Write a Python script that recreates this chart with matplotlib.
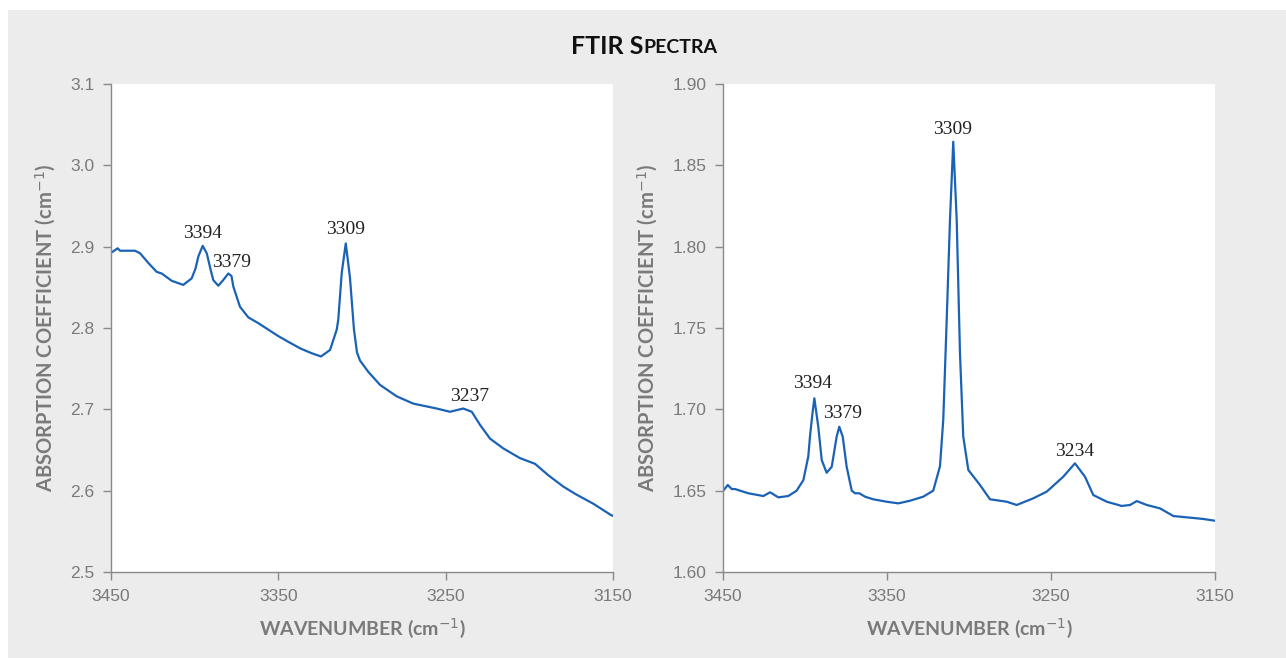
import numpy as np
import matplotlib
matplotlib.use("Agg")
import matplotlib.pyplot as plt
from matplotlib.patches import Rectangle

# Spectrum 1 (left panel)
wn_left = [3449.6, 3446.0, 3444.6, 3435.7, 3432.7, 3427.7, 3422.7, 3419.7,
           3413.7, 3406.8, 3401.8, 3399.5, 3397.8, 3395.2, 3392.8, 3390.5,
           3388.9, 3385.9, 3382.9, 3379.9, 3378.0, 3376.9, 3372.9, 3367.9,
           3362.0, 3356.0, 3350.0, 3344.0, 3337.0, 3330.1, 3324.5, 3319.1,
           3315.1, 3314.2, 3312.1, 3309.7, 3307.2, 3304.8, 3303.0, 3301.2,
           3296.2, 3289.2, 3279.3, 3269.3, 3255.4, 3247.4, 3239.5, 3234.4,
           3229.5, 3223.5, 3215.6, 3205.6, 3196.6, 3188.7, 3179.7, 3171.7,
           3161.8, 3151.2, 3150.0]
abs_left = [2.893, 2.898, 2.895, 2.895, 2.892, 2.880, 2.869, 2.867,
            2.858, 2.853, 2.861, 2.873, 2.888, 2.901, 2.892, 2.872,
            2.859, 2.852, 2.859, 2.867, 2.864, 2.851, 2.826, 2.813,
            2.806, 2.798, 2.790, 2.783, 2.775, 2.769, 2.765, 2.773,
            2.798, 2.810, 2.868, 2.904, 2.862, 2.798, 2.770, 2.760,
            2.746, 2.730, 2.716, 2.707, 2.701, 2.697, 2.701, 2.697,
            2.681, 2.664, 2.652, 2.640, 2.633, 2.619, 2.605, 2.595,
            2.584, 2.570, 2.569]

# Spectrum 2 (right panel)
wn_right = [3449.8, 3447.1, 3444.7, 3442.7, 3434.6, 3425.4, 3421.3, 3416.3,
            3410.2, 3405.1, 3401.0, 3398.0, 3396.9, 3395.5, 3394.3, 3391.9,
            3389.8, 3386.8, 3383.7, 3380.7, 3379.1, 3377.0, 3374.6, 3371.5,
            3369.5, 3366.9, 3363.4, 3358.4, 3350.2, 3343.1, 3336.0, 3327.9,
            3321.8, 3317.7, 3315.7, 3313.6, 3311.6, 3309.6, 3307.5, 3305.5,
            3303.5, 3300.4, 3293.3, 3287.2, 3277.0, 3270.9, 3260.8, 3252.6,
            3242.5, 3235.4, 3229.3, 3224.2, 3216.0, 3206.9, 3201.8, 3197.7,
            3191.6, 3183.5, 3175.4, 3165.2, 3157.1, 3150.0]
abs_right = [1.650, 1.6535, 1.651, 1.651, 1.6484, 1.6467, 1.649, 1.6459,
             1.6467, 1.650, 1.6565, 1.671, 1.684, 1.697, 1.7068, 1.6893,
             1.6688, 1.661, 1.6647, 1.6832, 1.6893, 1.6832, 1.6647, 1.650,
             1.6484, 1.6484, 1.6463, 1.6447, 1.6432, 1.6422, 1.6438, 1.6463,
             1.650, 1.665, 1.6934, 1.7549, 1.8164, 1.8645, 1.8164, 1.7344,
             1.6832, 1.6627, 1.6535, 1.6447, 1.6432, 1.6412, 1.6453, 1.6494,
             1.6586, 1.6668, 1.6586, 1.6473, 1.6432, 1.6406, 1.6412, 1.6436,
             1.6412, 1.6391, 1.6344, 1.6334, 1.6326, 1.6315]

# Peak labels: (text, x, y)
peaks_left = [("3394", 3395.0, 2.916), ("3379", 3377.7, 2.881),
              ("3309", 3309.6, 2.9205), ("3237", 3235.5, 2.7152)]
peaks_right = [("3394", 3395.1, 1.7156), ("3379", 3377.4, 1.6977),
               ("3309", 3309.8, 1.8723), ("3234", 3235.4, 1.6738)]

line_color = "#1a62b6"
grey = "#7a7a7a"

fig = plt.figure(figsize=(12.86, 6.58), dpi=100)
fig.patch.set_facecolor("white")
fig.patches.append(Rectangle((8 / 1286, 0), 1, 648 / 658, transform=fig.transFigure,
                             facecolor="#ececec", edgecolor="none", zorder=-10))

ax1 = fig.add_axes([111 / 1286, 86 / 658, 502 / 1286, 488 / 658])
ax2 = fig.add_axes([723 / 1286, 86 / 658, 492 / 1286, 488 / 658])

panels = [
    (ax1, wn_left, abs_left, peaks_left, (2.5, 3.1), np.arange(2.5, 3.11, 0.1), "{x:.1f}"),
    (ax2, wn_right, abs_right, peaks_right, (1.60, 1.90), np.arange(1.60, 1.901, 0.05), "{x:.2f}"),
]

for ax, wn, ab, peaks, ylim, yticks, fmt in panels:
    ax.set_facecolor("white")
    ax.plot(wn, ab, color=line_color, lw=1.6, solid_joinstyle="round")
    ax.set_xlim(3450, 3150)
    ax.set_ylim(*ylim)
    ax.set_xticks([3450, 3350, 3250, 3150])
    ax.set_yticks(yticks)
    ax.yaxis.set_major_formatter(fmt)
    ax.spines["top"].set_visible(False)
    ax.spines["right"].set_visible(False)
    for s in ("left", "bottom"):
        ax.spines[s].set_color("#8a8a8a")
        ax.spines[s].set_linewidth(1.0)
    ax.tick_params(direction="out", length=6, width=1, color="#8a8a8a",
                   labelcolor=grey, pad=6)
    for lab in ax.get_xticklabels() + ax.get_yticklabels():
        lab.set_fontfamily("Liberation Sans")
        lab.set_fontsize(12.5)
    ax.set_xlabel("WAVENUMBER (cm$^{-1}$)", fontsize=14, fontfamily="Lato",
                  fontweight="bold", color=grey, labelpad=9)
    ax.set_ylabel("ABSORPTION COEFFICIENT (cm$^{-1}$)", fontsize=14.5,
                  fontfamily="Lato", fontweight="bold", color=grey, labelpad=9)
    for txt, x, y in peaks:
        ax.text(x, y, txt, ha="center", va="center", fontsize=14,
                fontfamily="Liberation Serif", color="#222222")

# Title in small caps
fig.text(0.5, 1 - 47 / 658, "FTIR S", ha="right", va="center", fontsize=18,
         fontfamily="Lato", fontweight="bold", color="#111111")
fig.text(0.5, 1 - 47.5 / 658, "PECTRA", ha="left", va="center", fontsize=14,
         fontfamily="Lato", fontweight="bold", color="#111111")

fig.savefig("out.png", dpi=100)
